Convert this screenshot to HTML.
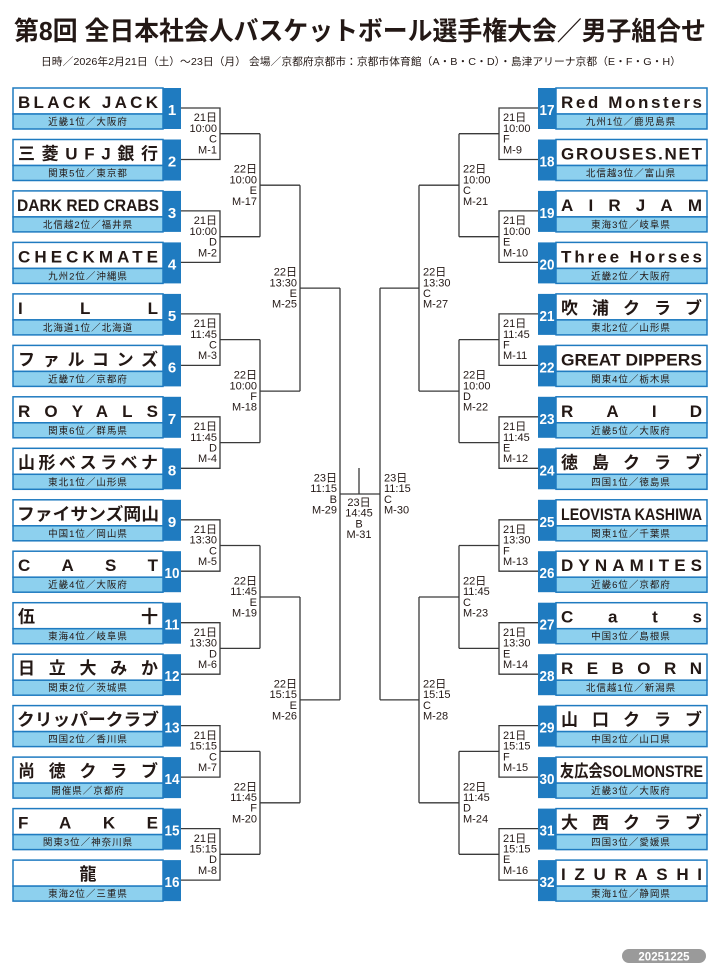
<!DOCTYPE html>
<html><head><meta charset="utf-8">
<style>
html,body{margin:0;padding:0;background:#fff;}
svg{display:block;}
.t{font-family:"Liberation Sans","Noto Sans CJK JP",sans-serif;}
.nm{font-size:17px;font-weight:bold;fill:#231815;}
.sb{font-size:9.5px;fill:#231815;text-anchor:middle;letter-spacing:1px;}
.no{font-size:15px;font-weight:bold;fill:#fff;text-anchor:middle;}
.lb{font-size:11px;fill:#231815;}
.le{text-anchor:end;}
.ln{fill:none;stroke:#3a3a3a;stroke-width:1.3;}
.bx{fill:#fff;stroke:#1f7bc0;stroke-width:1.5;}
.sx{fill:#8dd0ee;stroke:#1f7bc0;stroke-width:1.5;}
.nb{fill:#1f7bc0;}
</style></head><body>
<svg width="724" height="970" viewBox="0 0 724 970" xmlns="http://www.w3.org/2000/svg" class="t">
<text x="14" y="40" font-size="26" font-weight="bold" fill="#231815" textLength="692" lengthAdjust="spacingAndGlyphs">第8回 全日本社会人バスケットボール選手権大会／男子組合せ</text>
<text x="41" y="65" font-size="10.5" fill="#231815" textLength="640" lengthAdjust="spacingAndGlyphs">日時／2026年2月21日（土）～23日（月）  会場／京都府京都市：京都市体育館（A・B・C・D）・島津アリーナ京都（E・F・G・H）</text>

<!-- LEFT TEAMS -->
<g transform="translate(0,88)"><rect class="bx" x="13" y="0" width="150" height="26"/><rect class="sx" x="13" y="26" width="150" height="15"/><rect class="nb" x="163" y="0" width="18" height="41"/><text class="nm" x="18" y="20" textLength="140" lengthAdjust="spacing">BLACK JACK</text><text class="sb" x="88" y="37">近畿1位／大阪府</text><text class="no" x="172" y="27">1</text></g>
<g transform="translate(0,139.5)"><rect class="bx" x="13" y="0" width="150" height="26"/><rect class="sx" x="13" y="26" width="150" height="15"/><rect class="nb" x="163" y="0" width="18" height="41"/><text class="nm" x="18" y="20" textLength="140" lengthAdjust="spacing">三菱UFJ銀行</text><text class="sb" x="88" y="37">関東5位／東京都</text><text class="no" x="172" y="27">2</text></g>
<g transform="translate(0,190.9)"><rect class="bx" x="13" y="0" width="150" height="26"/><rect class="sx" x="13" y="26" width="150" height="15"/><rect class="nb" x="163" y="0" width="18" height="41"/><text class="nm" x="17" y="20" textLength="142" lengthAdjust="spacingAndGlyphs">DARK RED CRABS</text><text class="sb" x="88" y="37">北信越2位／福井県</text><text class="no" x="172" y="27">3</text></g>
<g transform="translate(0,242.4)"><rect class="bx" x="13" y="0" width="150" height="26"/><rect class="sx" x="13" y="26" width="150" height="15"/><rect class="nb" x="163" y="0" width="18" height="41"/><text class="nm" x="18" y="20" textLength="140" lengthAdjust="spacing">CHECKMATE</text><text class="sb" x="88" y="37">九州2位／沖縄県</text><text class="no" x="172" y="27">4</text></g>
<g transform="translate(0,293.9)"><rect class="bx" x="13" y="0" width="150" height="26"/><rect class="sx" x="13" y="26" width="150" height="15"/><rect class="nb" x="163" y="0" width="18" height="41"/><text class="nm" x="18" y="20" textLength="140" lengthAdjust="spacing">ILL</text><text class="sb" x="88" y="37">北海道1位／北海道</text><text class="no" x="172" y="27">5</text></g>
<g transform="translate(0,345.4)"><rect class="bx" x="13" y="0" width="150" height="26"/><rect class="sx" x="13" y="26" width="150" height="15"/><rect class="nb" x="163" y="0" width="18" height="41"/><text class="nm" x="18" y="20" textLength="140" lengthAdjust="spacing">ファルコンズ</text><text class="sb" x="88" y="37">近畿7位／京都府</text><text class="no" x="172" y="27">6</text></g>
<g transform="translate(0,396.8)"><rect class="bx" x="13" y="0" width="150" height="26"/><rect class="sx" x="13" y="26" width="150" height="15"/><rect class="nb" x="163" y="0" width="18" height="41"/><text class="nm" x="18" y="20" textLength="140" lengthAdjust="spacing">ROYALS</text><text class="sb" x="88" y="37">関東6位／群馬県</text><text class="no" x="172" y="27">7</text></g>
<g transform="translate(0,448.3)"><rect class="bx" x="13" y="0" width="150" height="26"/><rect class="sx" x="13" y="26" width="150" height="15"/><rect class="nb" x="163" y="0" width="18" height="41"/><text class="nm" x="18" y="20" textLength="140" lengthAdjust="spacing">山形ベスラベナ</text><text class="sb" x="88" y="37">東北1位／山形県</text><text class="no" x="172" y="27">8</text></g>
<g transform="translate(0,499.8)"><rect class="bx" x="13" y="0" width="150" height="26"/><rect class="sx" x="13" y="26" width="150" height="15"/><rect class="nb" x="163" y="0" width="18" height="41"/><text class="nm" x="17" y="20" textLength="142" lengthAdjust="spacingAndGlyphs">ファイサンズ岡山</text><text class="sb" x="88" y="37">中国1位／岡山県</text><text class="no" x="172" y="27">9</text></g>
<g transform="translate(0,551.2)"><rect class="bx" x="13" y="0" width="150" height="26"/><rect class="sx" x="13" y="26" width="150" height="15"/><rect class="nb" x="163" y="0" width="18" height="41"/><text class="nm" x="18" y="20" textLength="140" lengthAdjust="spacing">CAST</text><text class="sb" x="88" y="37">近畿4位／大阪府</text><text class="no" x="172" y="27" textLength="15" lengthAdjust="spacingAndGlyphs">10</text></g>
<g transform="translate(0,602.7)"><rect class="bx" x="13" y="0" width="150" height="26"/><rect class="sx" x="13" y="26" width="150" height="15"/><rect class="nb" x="163" y="0" width="18" height="41"/><text class="nm" x="18" y="20" textLength="140" lengthAdjust="spacing">伍十</text><text class="sb" x="88" y="37">東海4位／岐阜県</text><text class="no" x="172" y="27" textLength="15" lengthAdjust="spacingAndGlyphs">11</text></g>
<g transform="translate(0,654.2)"><rect class="bx" x="13" y="0" width="150" height="26"/><rect class="sx" x="13" y="26" width="150" height="15"/><rect class="nb" x="163" y="0" width="18" height="41"/><text class="nm" x="18" y="20" textLength="140" lengthAdjust="spacing">日立大みか</text><text class="sb" x="88" y="37">関東2位／茨城県</text><text class="no" x="172" y="27" textLength="15" lengthAdjust="spacingAndGlyphs">12</text></g>
<g transform="translate(0,705.6)"><rect class="bx" x="13" y="0" width="150" height="26"/><rect class="sx" x="13" y="26" width="150" height="15"/><rect class="nb" x="163" y="0" width="18" height="41"/><text class="nm" x="17" y="20" textLength="142" lengthAdjust="spacingAndGlyphs">クリッパークラブ</text><text class="sb" x="88" y="37">四国2位／香川県</text><text class="no" x="172" y="27" textLength="15" lengthAdjust="spacingAndGlyphs">13</text></g>
<g transform="translate(0,757.1)"><rect class="bx" x="13" y="0" width="150" height="26"/><rect class="sx" x="13" y="26" width="150" height="15"/><rect class="nb" x="163" y="0" width="18" height="41"/><text class="nm" x="18" y="20" textLength="140" lengthAdjust="spacing">尚徳クラブ</text><text class="sb" x="88" y="37">開催県／京都府</text><text class="no" x="172" y="27" textLength="15" lengthAdjust="spacingAndGlyphs">14</text></g>
<g transform="translate(0,808.6)"><rect class="bx" x="13" y="0" width="150" height="26"/><rect class="sx" x="13" y="26" width="150" height="15"/><rect class="nb" x="163" y="0" width="18" height="41"/><text class="nm" x="18" y="20" textLength="140" lengthAdjust="spacing">FAKE</text><text class="sb" x="88" y="37">関東3位／神奈川県</text><text class="no" x="172" y="27" textLength="15" lengthAdjust="spacingAndGlyphs">15</text></g>
<g transform="translate(0,860.1)"><rect class="bx" x="13" y="0" width="150" height="26"/><rect class="sx" x="13" y="26" width="150" height="15"/><rect class="nb" x="163" y="0" width="18" height="41"/><text class="nm" x="88" y="20" text-anchor="middle">龍</text><text class="sb" x="88" y="37">東海2位／三重県</text><text class="no" x="172" y="27" textLength="15" lengthAdjust="spacingAndGlyphs">16</text></g>

<!-- RIGHT TEAMS -->
<g transform="translate(0,88)"><rect class="bx" x="556" y="0" width="151" height="26"/><rect class="sx" x="556" y="26" width="151" height="15"/><rect class="nb" x="538" y="0" width="18" height="41"/><text class="nm" x="561" y="20" textLength="141" lengthAdjust="spacing">Red Monsters</text><text class="sb" x="631" y="37">九州1位／鹿児島県</text><text class="no" x="547" y="27" textLength="15" lengthAdjust="spacingAndGlyphs">17</text></g>
<g transform="translate(0,139.5)"><rect class="bx" x="556" y="0" width="151" height="26"/><rect class="sx" x="556" y="26" width="151" height="15"/><rect class="nb" x="538" y="0" width="18" height="41"/><text class="nm" x="561" y="20" textLength="141" lengthAdjust="spacing">GROUSES.NET</text><text class="sb" x="631" y="37">北信越3位／富山県</text><text class="no" x="547" y="27" textLength="15" lengthAdjust="spacingAndGlyphs">18</text></g>
<g transform="translate(0,190.9)"><rect class="bx" x="556" y="0" width="151" height="26"/><rect class="sx" x="556" y="26" width="151" height="15"/><rect class="nb" x="538" y="0" width="18" height="41"/><text class="nm" x="561" y="20" textLength="141" lengthAdjust="spacing">AIRJAM</text><text class="sb" x="631" y="37">東海3位／岐阜県</text><text class="no" x="547" y="27" textLength="15" lengthAdjust="spacingAndGlyphs">19</text></g>
<g transform="translate(0,242.4)"><rect class="bx" x="556" y="0" width="151" height="26"/><rect class="sx" x="556" y="26" width="151" height="15"/><rect class="nb" x="538" y="0" width="18" height="41"/><text class="nm" x="561" y="20" textLength="141" lengthAdjust="spacing">Three Horses</text><text class="sb" x="631" y="37">近畿2位／大阪府</text><text class="no" x="547" y="27" textLength="15" lengthAdjust="spacingAndGlyphs">20</text></g>
<g transform="translate(0,293.9)"><rect class="bx" x="556" y="0" width="151" height="26"/><rect class="sx" x="556" y="26" width="151" height="15"/><rect class="nb" x="538" y="0" width="18" height="41"/><text class="nm" x="561" y="20" textLength="141" lengthAdjust="spacing">吹浦クラブ</text><text class="sb" x="631" y="37">東北2位／山形県</text><text class="no" x="547" y="27" textLength="15" lengthAdjust="spacingAndGlyphs">21</text></g>
<g transform="translate(0,345.4)"><rect class="bx" x="556" y="0" width="151" height="26"/><rect class="sx" x="556" y="26" width="151" height="15"/><rect class="nb" x="538" y="0" width="18" height="41"/><text class="nm" x="561" y="20" textLength="141" lengthAdjust="spacingAndGlyphs">GREAT DIPPERS</text><text class="sb" x="631" y="37">関東4位／栃木県</text><text class="no" x="547" y="27" textLength="15" lengthAdjust="spacingAndGlyphs">22</text></g>
<g transform="translate(0,396.8)"><rect class="bx" x="556" y="0" width="151" height="26"/><rect class="sx" x="556" y="26" width="151" height="15"/><rect class="nb" x="538" y="0" width="18" height="41"/><text class="nm" x="561" y="20" textLength="141" lengthAdjust="spacing">RAID</text><text class="sb" x="631" y="37">近畿5位／大阪府</text><text class="no" x="547" y="27" textLength="15" lengthAdjust="spacingAndGlyphs">23</text></g>
<g transform="translate(0,448.3)"><rect class="bx" x="556" y="0" width="151" height="26"/><rect class="sx" x="556" y="26" width="151" height="15"/><rect class="nb" x="538" y="0" width="18" height="41"/><text class="nm" x="561" y="20" textLength="141" lengthAdjust="spacing">徳島クラブ</text><text class="sb" x="631" y="37">四国1位／徳島県</text><text class="no" x="547" y="27" textLength="15" lengthAdjust="spacingAndGlyphs">24</text></g>
<g transform="translate(0,499.8)"><rect class="bx" x="556" y="0" width="151" height="26"/><rect class="sx" x="556" y="26" width="151" height="15"/><rect class="nb" x="538" y="0" width="18" height="41"/><text class="nm" x="561" y="20" font-size="15" textLength="141" lengthAdjust="spacingAndGlyphs">LEOVISTA KASHIWA</text><text class="sb" x="631" y="37">関東1位／千葉県</text><text class="no" x="547" y="27" textLength="15" lengthAdjust="spacingAndGlyphs">25</text></g>
<g transform="translate(0,551.2)"><rect class="bx" x="556" y="0" width="151" height="26"/><rect class="sx" x="556" y="26" width="151" height="15"/><rect class="nb" x="538" y="0" width="18" height="41"/><text class="nm" x="561" y="20" textLength="141" lengthAdjust="spacing">DYNAMITES</text><text class="sb" x="631" y="37">近畿6位／京都府</text><text class="no" x="547" y="27" textLength="15" lengthAdjust="spacingAndGlyphs">26</text></g>
<g transform="translate(0,602.7)"><rect class="bx" x="556" y="0" width="151" height="26"/><rect class="sx" x="556" y="26" width="151" height="15"/><rect class="nb" x="538" y="0" width="18" height="41"/><text class="nm" x="561" y="20" textLength="141" lengthAdjust="spacing">Cats</text><text class="sb" x="631" y="37">中国3位／島根県</text><text class="no" x="547" y="27" textLength="15" lengthAdjust="spacingAndGlyphs">27</text></g>
<g transform="translate(0,654.2)"><rect class="bx" x="556" y="0" width="151" height="26"/><rect class="sx" x="556" y="26" width="151" height="15"/><rect class="nb" x="538" y="0" width="18" height="41"/><text class="nm" x="561" y="20" textLength="141" lengthAdjust="spacing">REBORN</text><text class="sb" x="631" y="37">北信越1位／新潟県</text><text class="no" x="547" y="27" textLength="15" lengthAdjust="spacingAndGlyphs">28</text></g>
<g transform="translate(0,705.6)"><rect class="bx" x="556" y="0" width="151" height="26"/><rect class="sx" x="556" y="26" width="151" height="15"/><rect class="nb" x="538" y="0" width="18" height="41"/><text class="nm" x="561" y="20" textLength="141" lengthAdjust="spacing">山口クラブ</text><text class="sb" x="631" y="37">中国2位／山口県</text><text class="no" x="547" y="27" textLength="15" lengthAdjust="spacingAndGlyphs">29</text></g>
<g transform="translate(0,757.1)"><rect class="bx" x="556" y="0" width="151" height="26"/><rect class="sx" x="556" y="26" width="151" height="15"/><rect class="nb" x="538" y="0" width="18" height="41"/><text class="nm" x="560" y="20" font-size="16" textLength="143" lengthAdjust="spacingAndGlyphs">友広会SOLMONSTRE</text><text class="sb" x="631" y="37">近畿3位／大阪府</text><text class="no" x="547" y="27" textLength="15" lengthAdjust="spacingAndGlyphs">30</text></g>
<g transform="translate(0,808.6)"><rect class="bx" x="556" y="0" width="151" height="26"/><rect class="sx" x="556" y="26" width="151" height="15"/><rect class="nb" x="538" y="0" width="18" height="41"/><text class="nm" x="561" y="20" textLength="141" lengthAdjust="spacing">大西クラブ</text><text class="sb" x="631" y="37">四国3位／愛媛県</text><text class="no" x="547" y="27" textLength="15" lengthAdjust="spacingAndGlyphs">31</text></g>
<g transform="translate(0,860.1)"><rect class="bx" x="556" y="0" width="151" height="26"/><rect class="sx" x="556" y="26" width="151" height="15"/><rect class="nb" x="538" y="0" width="18" height="41"/><text class="nm" x="561" y="20" textLength="141" lengthAdjust="spacing">IZURASHI</text><text class="sb" x="631" y="37">東海1位／静岡県</text><text class="no" x="547" y="27" textLength="15" lengthAdjust="spacingAndGlyphs">32</text></g>

<!-- LEFT BRACKET LINES -->
<path class="ln" d="M181 108H220V159.5H181 M220 133.7H260
M181 210.9H220V262.4H181 M220 236.7H260
M181 313.9H220V365.4H181 M220 339.6H260
M181 416.8H220V468.3H181 M220 442.6H260
M181 519.8H220V571.2H181 M220 545.5H260
M181 622.7H220V674.2H181 M220 648.4H260
M181 725.6H220V777.1H181 M220 751.4H260
M181 828.6H220V880.1H181 M220 854.3H260
M260 133.7V236.7 M260 185.2H300 M260 339.6V442.6 M260 391.1H300
M260 545.5V648.4 M260 597H300 M260 751.4V854.3 M260 802.8H300
M300 185.2V391.1 M300 288.1H340 M300 597V802.8 M300 699.9H340
M340 288.1V699.9 M340 494H380 M359 468V494"/>
<!-- RIGHT BRACKET LINES -->
<path class="ln" d="M538 108H499V159.5H538 M499 133.7H459
M538 210.9H499V262.4H538 M499 236.7H459
M538 313.9H499V365.4H538 M499 339.6H459
M538 416.8H499V468.3H538 M499 442.6H459
M538 519.8H499V571.2H538 M499 545.5H459
M538 622.7H499V674.2H538 M499 648.4H459
M538 725.6H499V777.1H538 M499 751.4H459
M538 828.6H499V880.1H538 M499 854.3H459
M459 133.7V236.7 M459 185.2H419 M459 339.6V442.6 M459 391.1H419
M459 545.5V648.4 M459 597H419 M459 751.4V854.3 M459 802.8H419
M419 185.2V391.1 M419 288.1H380 M419 597V802.8 M419 699.9H380
M380 288.1V699.9"/>

<!-- LEFT LABELS -->
<g class="lb le">
<text x="217" y="121.2">21日</text><text x="217" y="131.9">10:00</text><text x="217" y="142.6">C</text><text x="217" y="153.3">M-1</text>
<text x="217" y="224.2">21日</text><text x="217" y="234.9">10:00</text><text x="217" y="245.6">D</text><text x="217" y="256.3">M-2</text>
<text x="217" y="327.1">21日</text><text x="217" y="337.8">11:45</text><text x="217" y="348.5">C</text><text x="217" y="359.2">M-3</text>
<text x="217" y="430.1">21日</text><text x="217" y="440.8">11:45</text><text x="217" y="451.5">D</text><text x="217" y="462.2">M-4</text>
<text x="217" y="533">21日</text><text x="217" y="543.7">13:30</text><text x="217" y="554.4">C</text><text x="217" y="565.1">M-5</text>
<text x="217" y="635.9">21日</text><text x="217" y="646.6">13:30</text><text x="217" y="657.3">D</text><text x="217" y="668">M-6</text>
<text x="217" y="738.9">21日</text><text x="217" y="749.6">15:15</text><text x="217" y="760.3">C</text><text x="217" y="771">M-7</text>
<text x="217" y="841.8">21日</text><text x="217" y="852.5">15:15</text><text x="217" y="863.2">D</text><text x="217" y="873.9">M-8</text>
<text x="257" y="172.7">22日</text><text x="257" y="183.4">10:00</text><text x="257" y="194.1">E</text><text x="257" y="204.8">M-17</text>
<text x="257" y="378.6">22日</text><text x="257" y="389.3">10:00</text><text x="257" y="400">F</text><text x="257" y="410.7">M-18</text>
<text x="257" y="584.5">22日</text><text x="257" y="595.2">11:45</text><text x="257" y="605.9">E</text><text x="257" y="616.6">M-19</text>
<text x="257" y="790.3">22日</text><text x="257" y="801">11:45</text><text x="257" y="811.7">F</text><text x="257" y="822.4">M-20</text>
<text x="297" y="275.6">22日</text><text x="297" y="286.3">13:30</text><text x="297" y="297">E</text><text x="297" y="307.7">M-25</text>
<text x="297" y="687.4">22日</text><text x="297" y="698.1">15:15</text><text x="297" y="708.8">E</text><text x="297" y="719.5">M-26</text>
<text x="337" y="481.5">23日</text><text x="337" y="492.2">11:15</text><text x="337" y="502.9">B</text><text x="337" y="513.6">M-29</text>
</g>
<!-- FINAL -->
<g class="lb" text-anchor="middle">
<text x="359" y="506">23日</text><text x="359" y="516.7">14:45</text><text x="359" y="527.4">B</text><text x="359" y="538.1">M-31</text>
</g>
<!-- RIGHT LABELS -->
<g class="lb">
<text x="503" y="121.2">21日</text><text x="503" y="131.9">10:00</text><text x="503" y="142.6">F</text><text x="503" y="153.3">M-9</text>
<text x="503" y="224.2">21日</text><text x="503" y="234.9">10:00</text><text x="503" y="245.6">E</text><text x="503" y="256.3">M-10</text>
<text x="503" y="327.1">21日</text><text x="503" y="337.8">11:45</text><text x="503" y="348.5">F</text><text x="503" y="359.2">M-11</text>
<text x="503" y="430.1">21日</text><text x="503" y="440.8">11:45</text><text x="503" y="451.5">E</text><text x="503" y="462.2">M-12</text>
<text x="503" y="533">21日</text><text x="503" y="543.7">13:30</text><text x="503" y="554.4">F</text><text x="503" y="565.1">M-13</text>
<text x="503" y="635.9">21日</text><text x="503" y="646.6">13:30</text><text x="503" y="657.3">E</text><text x="503" y="668">M-14</text>
<text x="503" y="738.9">21日</text><text x="503" y="749.6">15:15</text><text x="503" y="760.3">F</text><text x="503" y="771">M-15</text>
<text x="503" y="841.8">21日</text><text x="503" y="852.5">15:15</text><text x="503" y="863.2">E</text><text x="503" y="873.9">M-16</text>
<text x="463" y="172.7">22日</text><text x="463" y="183.4">10:00</text><text x="463" y="194.1">C</text><text x="463" y="204.8">M-21</text>
<text x="463" y="378.6">22日</text><text x="463" y="389.3">10:00</text><text x="463" y="400">D</text><text x="463" y="410.7">M-22</text>
<text x="463" y="584.5">22日</text><text x="463" y="595.2">11:45</text><text x="463" y="605.9">C</text><text x="463" y="616.6">M-23</text>
<text x="463" y="790.3">22日</text><text x="463" y="801">11:45</text><text x="463" y="811.7">D</text><text x="463" y="822.4">M-24</text>
<text x="423" y="275.6">22日</text><text x="423" y="286.3">13:30</text><text x="423" y="297">C</text><text x="423" y="307.7">M-27</text>
<text x="423" y="687.4">22日</text><text x="423" y="698.1">15:15</text><text x="423" y="708.8">C</text><text x="423" y="719.5">M-28</text>
<text x="384" y="481.5">23日</text><text x="384" y="492.2">11:15</text><text x="384" y="502.9">C</text><text x="384" y="513.6">M-30</text>
</g>

<!-- badge -->
<rect x="622" y="949" width="84" height="14" rx="7" fill="#9a9a9a"/>
<text x="664" y="960.5" font-size="11.5" font-weight="bold" fill="#fff" text-anchor="middle">20251225</text>
</svg>
</body></html>
